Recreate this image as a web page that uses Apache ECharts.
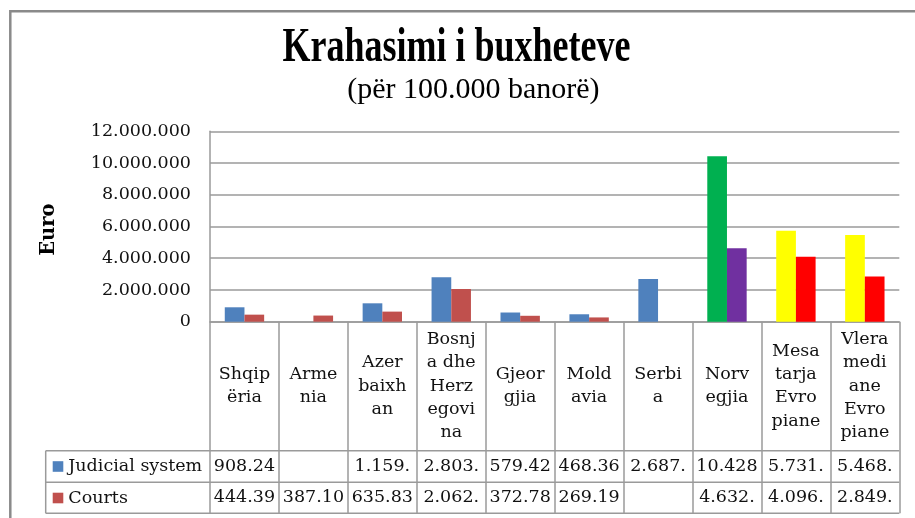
<!DOCTYPE html>
<html>
<head>
<meta charset="utf-8">
<title>Krahasimi i buxheteve</title>
<script src="https://cdn.jsdelivr.net/npm/echarts@6/dist/echarts.min.js"></script>
<style>
  html, body { margin: 0; padding: 0; background: #fff; }
  #chart { width: 915px; height: 518px; }
</style>
</head>
<body>
<div id="chart"></div>
<script>
// Category names as they wrap inside the table header cells
const categories = [
  'Shqip\nëria',
  'Arme\nnia',
  'Azer\nbaixh\nan',
  'Bosnj\na dhe\nHerz\negovi\nna',
  'Gjeor\ngjia',
  'Mold\navia',
  'Serbi\na',
  'Norv\negjia',
  'Mesa\ntarja\nEvro\npiane',
  'Vlera\nmedi\nane\nEvro\npiane'
];

const seriesNames = ['Judicial system', 'Courts'];

// Budgets per 100.000 inhabitants, in euro (null = no data)
const judicialSystem = [908240, null, 1159000, 2803000, 579420, 468360, 2687000, 10428000, 5731000, 5468000];
const courts = [444390, 387100, 635830, 2062000, 372780, 269190, null, 4632000, 4096000, 2849000];

// Value axis ticks
const yMin = 0;
const yMax = 12000000;
const yStep = 2000000;

// ---- styling ----
const SERIF = "'DejaVu Serif', serif";
const TABLE_SERIF = "'DejaVu Serif', serif";
const LINE = '#9a9a9a';
const baseColours = ['#4F81BD', '#C0504D'];
// highlighted columns: [judicial colour, courts colour]
const highlight = {
  7: ['#00B050', '#7030A0'],
  8: ['#FFFF00', '#FF0000'],
  9: ['#FFFF00', '#FF0000']
};

// plot area and table geometry
const plotLeft = 210, plotRight = 899.3, plotTop = 131.3, axisY = 321.7;
const headerBottom = 450.7, row1Bottom = 482.3, row2Bottom = 513.3;
const tableLeft = 45.7;

function dotted(n) {
  return String(Math.round(n)).replace(/\B(?=(\d{3})+(?!\d))/g, '.');
}
// cell text is clipped to what fits in a column
function cellText(v) {
  if (v == null) return '';
  return dotted(v).slice(0, 6);
}

function seriesData(values, s) {
  return values.map((v, i) => {
    const item = { value: v };
    if (highlight[i]) item.itemStyle = { color: highlight[i][s] };
    return item;
  });
}

const chart = echarts.init(document.getElementById('chart'));

const valueRow = (values, rowCenter) => ({
  type: 'category',
  data: categories,
  position: 'bottom',
  gridIndex: 0,
  axisLine: { show: false },
  axisTick: { show: false },
  splitLine: { show: false },
  axisLabel: {
    interval: 0,
    margin: rowCenter - axisY,
    verticalAlign: 'middle',
    fontFamily: TABLE_SERIF,
    fontSize: 17.5,
    color: '#111',
    formatter: (val, idx) => cellText(values[idx])
  }
});

const option = {
  backgroundColor: '#fff',
  animation: false,
  grid: {
    left: plotLeft,
    right: 915 - plotRight,
    top: plotTop,
    bottom: 518 - axisY,
    containLabel: false
  },
  legend: {
    data: seriesNames,
    orient: 'vertical',
    left: 52.7,
    top: 455.5,
    padding: 0,
    height: 60,
    itemWidth: 10.6,
    itemHeight: 10.6,
    itemGap: 9.5,
    icon: 'rect',
    selectedMode: false,
    textStyle: { fontFamily: TABLE_SERIF, fontSize: 17.5, lineHeight: 22, color: '#111' }
  },
  xAxis: [
    {
      type: 'category',
      data: categories,
      boundaryGap: true,
      axisLine: { show: true, lineStyle: { color: LINE, width: 1.5 } },
      axisTick: {
        show: true,
        alignWithLabel: false,
        length: row2Bottom - axisY,
        lineStyle: { color: LINE, width: 1.5 }
      },
      axisLabel: {
        interval: 0,
        margin: (headerBottom - axisY) / 2,
        verticalAlign: 'middle',
        align: 'center',
        lineHeight: 23.3,
        fontFamily: TABLE_SERIF,
        fontSize: 17.5,
        color: '#111'
      }
    },
    valueRow(judicialSystem, (headerBottom + row1Bottom) / 2),
    valueRow(courts, (row1Bottom + row2Bottom) / 2)
  ],
  yAxis: {
    type: 'value',
    min: yMin,
    max: yMax,
    interval: yStep,
    axisLine: { show: true, lineStyle: { color: LINE, width: 1.5 } },
    axisTick: { show: false },
    splitLine: { show: true, lineStyle: { color: LINE, width: 1.5 } },
    axisLabel: {
      margin: 19,
      fontFamily: SERIF,
      fontSize: 17.5,
      color: '#111',
      formatter: v => dotted(v)
    }
  },
  series: [
    {
      name: seriesNames[0],
      type: 'bar',
      xAxisIndex: 0,
      barGap: '0%',
      barCategoryGap: '42.86%',
      itemStyle: { color: baseColours[0] },
      data: seriesData(judicialSystem, 0)
    },
    {
      name: seriesNames[1],
      type: 'bar',
      xAxisIndex: 0,
      barGap: '0%',
      barCategoryGap: '42.86%',
      itemStyle: { color: baseColours[1] },
      data: seriesData(courts, 1)
    }
  ],
  graphic: [
    // outer chart frame
    {
      type: 'rect', silent: true,
      shape: { x: 10.3, y: 11.3, width: 2000, height: 2000 },
      style: { fill: 'none', stroke: '#8a8a8a', lineWidth: 2.5 }
    },
    // data table rules
    {
      type: 'line', silent: true,
      shape: { x1: tableLeft, y1: headerBottom, x2: plotRight, y2: headerBottom },
      style: { stroke: LINE, lineWidth: 1.5 }
    },
    {
      type: 'line', silent: true,
      shape: { x1: tableLeft, y1: row1Bottom, x2: plotRight, y2: row1Bottom },
      style: { stroke: LINE, lineWidth: 1.5 }
    },
    {
      type: 'line', silent: true,
      shape: { x1: tableLeft, y1: row2Bottom, x2: plotRight, y2: row2Bottom },
      style: { stroke: LINE, lineWidth: 1.5 }
    },
    {
      type: 'line', silent: true,
      shape: { x1: tableLeft, y1: headerBottom, x2: tableLeft, y2: row2Bottom },
      style: { stroke: LINE, lineWidth: 1.5 }
    },
    // title
    {
      type: 'text', silent: true,
      x: 456.5, y: 49, scaleY: 1.33,
      style: {
        text: 'Krahasimi i buxheteve',
        fontFamily: "'Liberation Serif', serif",
        fontWeight: 'bold',
        fontSize: 36,
        fill: '#000',
        align: 'center', verticalAlign: 'middle',
        textAlign: 'center', textVerticalAlign: 'middle'
      }
    },
    {
      type: 'text', silent: true,
      x: 473.4, y: 90,
      style: {
        text: '(për 100.000 banorë)',
        fontFamily: "'Liberation Serif', serif",
        fontSize: 30,
        fill: '#000',
        align: 'center', verticalAlign: 'middle',
        textAlign: 'center', textVerticalAlign: 'middle'
      }
    },
    // value axis name
    {
      type: 'text', silent: true,
      x: 49, y: 229.7, rotation: Math.PI / 2,
      style: {
        text: 'Euro',
        fontFamily: SERIF,
        fontWeight: 'bold',
        fontSize: 19.5,
        fill: '#000',
        align: 'center', verticalAlign: 'middle',
        textAlign: 'center', textVerticalAlign: 'middle'
      }
    }
  ]
};

chart.setOption(option);
</script>
</body>
</html>
